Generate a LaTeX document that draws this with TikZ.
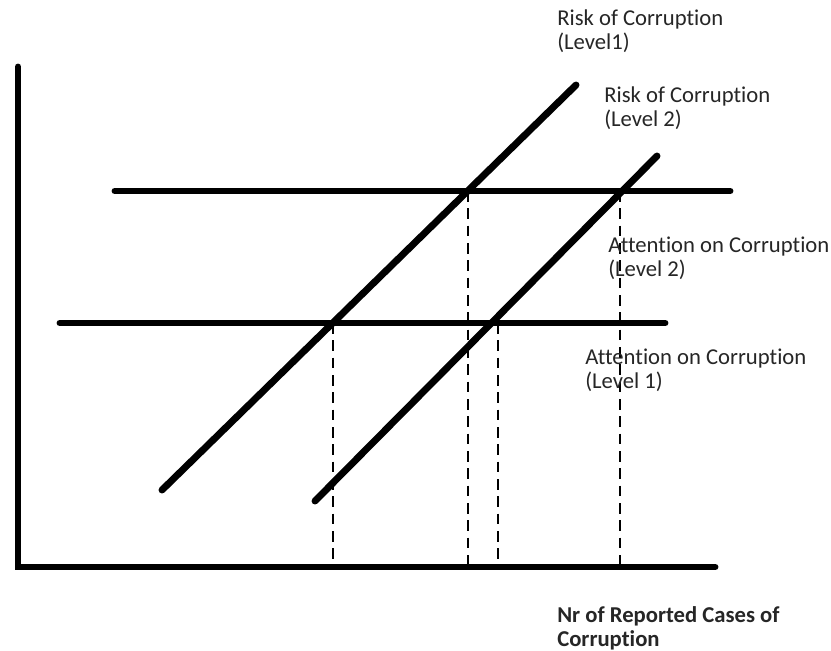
\documentclass[tikz,border=0pt]{standalone}
\usepackage{fontspec}
\setmainfont[Ligatures={NoCommon}]{Carlito}
\begin{document}
\begin{tikzpicture}[x=0.75pt,y=-0.75pt,
  thickline/.style={line width=5.2pt,line cap=round},
  guide/.style={line width=0.8pt,dash pattern=on 8pt off 5pt},
  lbl/.style={anchor=north west,inner sep=0pt,align=left,font=\fontsize{17pt}{18pt}\selectfont,text=black!85},
  blbl/.style={lbl,font=\fontsize{17pt}{18pt}\selectfont\bfseries}]
\useasboundingbox[fill=white] (0,0) rectangle (831,650);
% axes
\coordinate (ytop) at (18,67);
\coordinate (orig) at (18,567);
\coordinate (xend) at (715,567);
\draw[thickline] (ytop) -- (orig) -- (xend);
% risk lines
\coordinate (r1a) at (162,490); \coordinate (r1b) at (576,85);
\coordinate (r2a) at (315,501); \coordinate (r2b) at (657,156);
\draw[thickline] (r1a) -- (r1b);
\draw[thickline] (r2a) -- (r2b);
% attention lines
\coordinate (a2a) at (115,191); \coordinate (a2b) at (730,191);
\coordinate (a1a) at (60,323); \coordinate (a1b) at (665,323);
\draw[thickline] (a2a) -- (a2b);
\draw[thickline] (a1a) -- (a1b);
% dashed guides
\coordinate (g1t) at (333,323); \coordinate (g1b) at (333,567);
\coordinate (g2t) at (468,191); \coordinate (g2b) at (468,567);
\coordinate (g3t) at (498,323); \coordinate (g3b) at (498,567);
\coordinate (g4t) at (620,191); \coordinate (g4b) at (620,567);
\draw[guide] (g1t) -- (g1b);
\draw[guide] (g2t) -- (g2b);
\draw[guide] (g3t) -- (g3b);
\draw[guide] (g4t) -- (g4b);
% labels
\node[lbl] (t1) at (557,9) {Risk of Corruption\\(Level1)};
\node[lbl] (t2) at (604,86) {Risk of Corruption\\(Level 2)};
\node[lbl] (t3) at (608,237) {Attention on Corruption\\(Level 2)};
\node[lbl] (t4) at (585,349) {Attention on Corruption\\(Level 1)};
\node[blbl] (t5) at (557,606) {Nr of Reported Cases of\\Corruption};
\end{tikzpicture}
\end{document}
